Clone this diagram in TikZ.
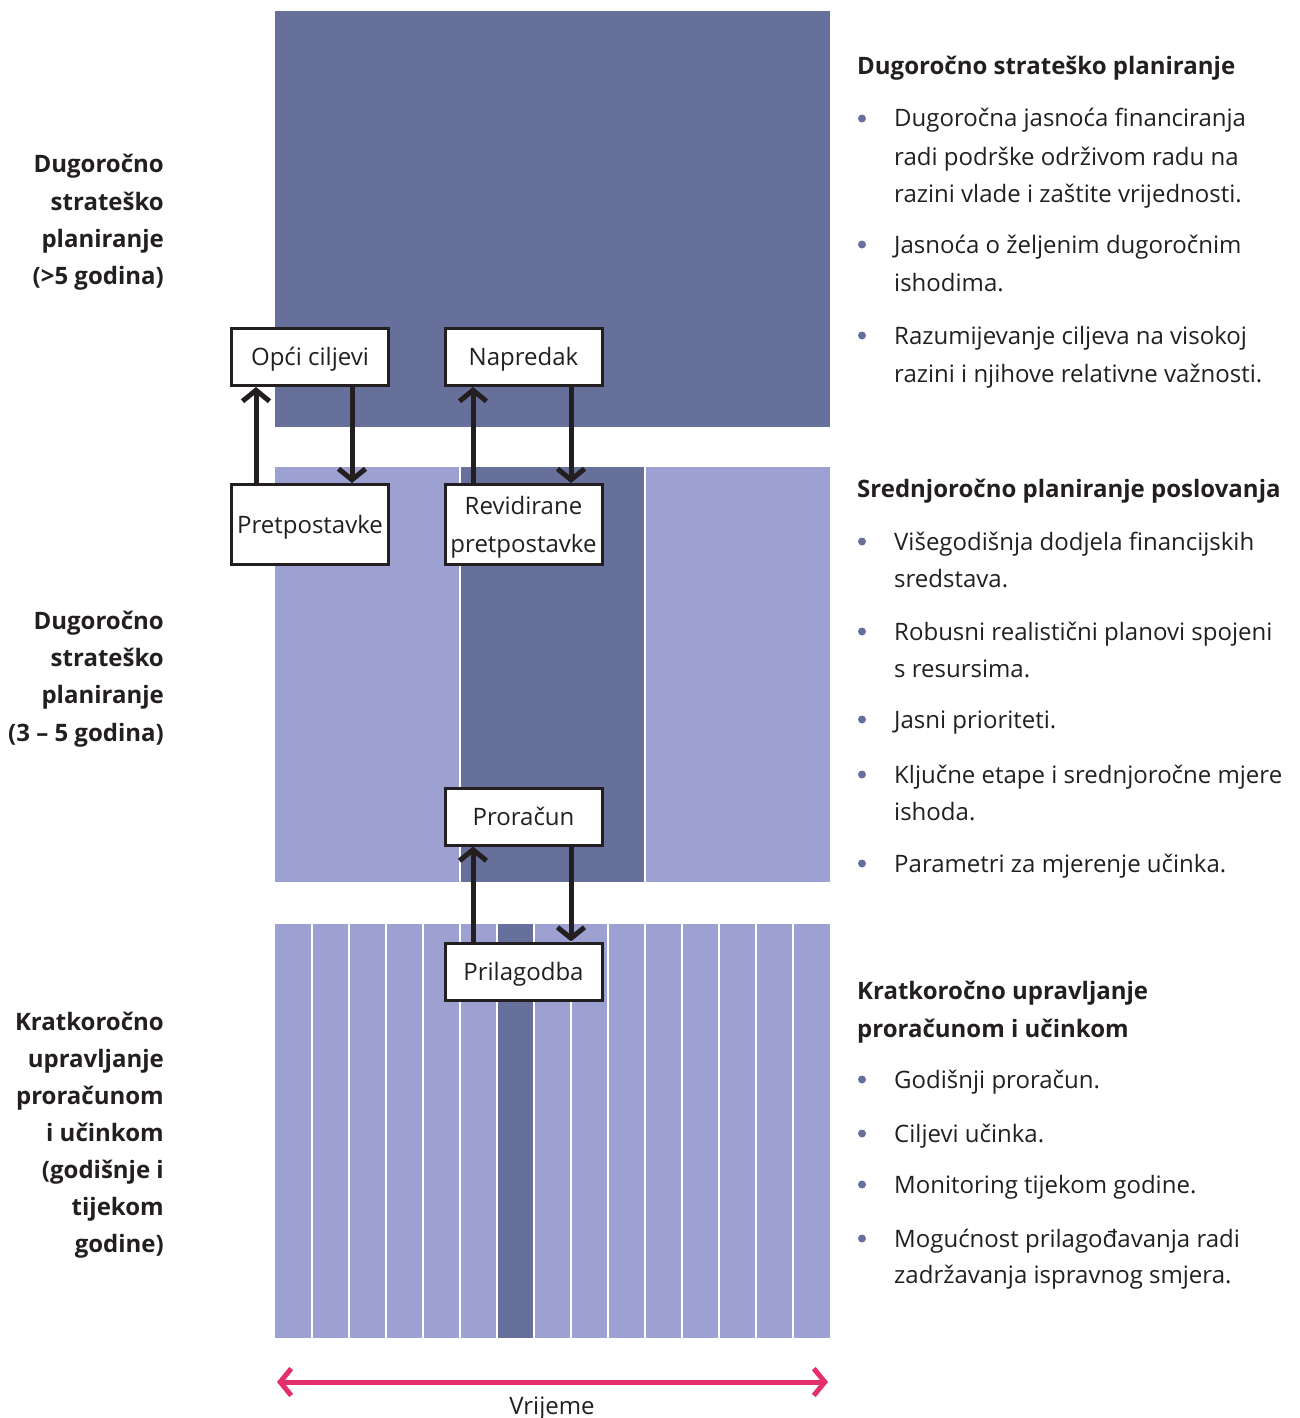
\documentclass[tikz,border=0pt]{standalone}
\usepackage{fontspec}
\setmainfont{Open Sans}
\usetikzlibrary{arrows.meta}
\definecolor{darkband}{HTML}{67709A}
\definecolor{lightband}{HTML}{9CA1D1}
\definecolor{txt}{HTML}{231F20}
\definecolor{timered}{HTML}{E3306B}
\begin{document}
\begin{tikzpicture}[x=1pt,y=-1pt,
  body/.style={font=\fontsize{24}{28}\selectfont, text=txt, inner sep=0pt, anchor=base west},
  head/.style={body, font=\fontsize{24}{28}\selectfont\bfseries},
  side/.style={font=\fontsize{24}{28}\selectfont\bfseries, text=txt, inner sep=0pt, anchor=base east},
  dot/.style={circle, fill=darkband, inner sep=0pt, minimum size=8pt},
  box/.style={draw=txt, line width=3pt, fill=white, minimum width=157pt, minimum height=57pt,
    inner sep=0pt, font=\fontsize{24}{37.5}\selectfont, text=txt, align=center, text depth=0pt},
  one/.style={text height=17pt},
  arr/.style={draw=txt, line width=5pt, -{Straight Barb[length=11pt,width=27pt]}},
  timearr/.style={draw=timered, line width=5pt, {Straight Barb[length=11pt,width=27pt]}-{Straight Barb[length=11pt,width=27pt]}}
]
\useasboundingbox (0,0) rectangle (1299,1418);
% bands
\fill[darkband] (275,11) rectangle (830,427);
\fill[lightband] (275,467) rectangle (830,882);
\fill[darkband] (460,467) rectangle (645,882);
\foreach \x in {460,645} \fill[white] (\x-1,467) rectangle (\x+1,882);
\fill[lightband] (275,924) rectangle (830,1338);
\fill[darkband] (497,924) rectangle (534,1338);
\foreach \i in {1,...,14} \fill[white] (275+37*\i-1,924) rectangle (275+37*\i+1,1338);

% boxes
\node[box, one] (opci) at (310,357) {Opći ciljevi};
\node[box, one] (napredak) at (523.5,357) {Napredak};
\node[box, one, minimum height=80pt] (pret) at (310,524.5) {Pretpostavke};
\node[box, minimum height=80pt] (revid) at (523.5,524.5) {Revidirane\\pretpostavke};
\node[box, one] (proracun) at (523.5,816.5) {Proračun};
\node[box, one] (prilag) at (523.5,971.5) {Prilagodba};

\coordinate (xa) at (256,0);
\coordinate (xb) at (352,0);
\coordinate (xc) at (473,0);
\coordinate (xd) at (571,0);
\draw[arr] (pret.north -| xa) -- (opci.south -| xa);
\draw[arr] (opci.south -| xb) -- (pret.north -| xb);
\draw[arr] (revid.north -| xc) -- (napredak.south -| xc);
\draw[arr] (napredak.south -| xd) -- (revid.north -| xd);
\draw[arr] (prilag.north -| xc) -- (proracun.south -| xc);
\draw[arr] (proracun.south -| xd) -- (prilag.north -| xd);

% time axis
\coordinate (tl) at (277,1382);
\coordinate (tr) at (828,1382);
\draw[timearr] (tl) -- (tr);
\node[body, anchor=base] (vr) at (552,1414) {Vrijeme};

% left labels
\node[side] (l1a) at (164,172) {Dugoročno};
\node[side] (l1b) at (164,210) {strateško};
\node[side] (l1c) at (164,247) {planiranje};
\node[side] (l1d) at (164,284) {(>5 godina)};
\node[side] (l2a) at (164,629) {Dugoročno};
\node[side] (l2b) at (164,666) {strateško};
\node[side] (l2c) at (164,703) {planiranje};
\node[side] (l2d) at (164,741) {(3 – 5 godina)};
\node[side] (l3a) at (164,1030) {Kratkoročno};
\node[side] (l3b) at (164,1067) {upravljanje};
\node[side] (l3c) at (164,1104) {proračunom};
\node[side] (l3d) at (164,1141) {i učinkom};
\node[side] (l3e) at (164,1178) {(godišnje i};
\node[side] (l3f) at (164,1215) {tijekom};
\node[side] (l3g) at (164,1252) {godine)};

% right: top
\node[head] (h1) at (857,75) {Dugoročno strateško planiranje};
\node[dot] (d11) at (862,118.5) {};
\node[body] (t11a) at (894,127) {Dugoročna jasnoća financiranja};
\node[body] (t11b) at (894,165) {radi podrške održivom radu na};
\node[body] (t11c) at (894,202) {razini vlade i zaštite vrijednosti.};
\node[dot] (d12) at (862,244.5) {};
\node[body] (t12a) at (894,253) {Jasnoća o željenim dugoročnim};
\node[body] (t12b) at (894,291) {ishodima.};
\node[dot] (d13) at (862,335.5) {};
\node[body] (t13a) at (894,344) {Razumijevanje ciljeva na visokoj};
\node[body] (t13b) at (894,382) {razini i njihove relativne važnosti.};

% right: middle
\node[head] (h2) at (857,497) {Srednjoročno planiranje poslovanja};
\node[dot] (d21) at (862,541.5) {};
\node[body] (t21a) at (894,550) {Višegodišnja dodjela financijskih};
\node[body] (t21b) at (894,587) {sredstava.};
\node[dot] (d22) at (862,631.5) {};
\node[body] (t22a) at (894,640) {Robusni realistični planovi spojeni};
\node[body] (t22b) at (894,677) {s resursima.};
\node[dot] (d23) at (862,719.5) {};
\node[body] (t23a) at (894,728) {Jasni prioriteti.};
\node[dot] (d24) at (862,774.5) {};
\node[body] (t24a) at (894,783) {Ključne etape i srednjoročne mjere};
\node[body] (t24b) at (894,820) {ishoda.};
\node[dot] (d25) at (862,863.5) {};
\node[body] (t25a) at (894,872) {Parametri za mjerenje učinka.};

% right: bottom
\node[head] (h3a) at (857,999) {Kratkoročno upravljanje};
\node[head] (h3b) at (857,1037) {proračunom i učinkom};
\node[dot] (d31) at (862,1079.5) {};
\node[body] (t31a) at (894,1088) {Godišnji proračun.};
\node[dot] (d32) at (862,1133.5) {};
\node[body] (t32a) at (894,1142) {Ciljevi učinka.};
\node[dot] (d33) at (862,1184.5) {};
\node[body] (t33a) at (894,1193) {Monitoring tijekom godine.};
\node[dot] (d34) at (862,1238.5) {};
\node[body] (t34a) at (894,1247) {Mogućnost prilagođavanja radi};
\node[body] (t34b) at (894,1283) {zadržavanja ispravnog smjera.};
\end{tikzpicture}
\end{document}
